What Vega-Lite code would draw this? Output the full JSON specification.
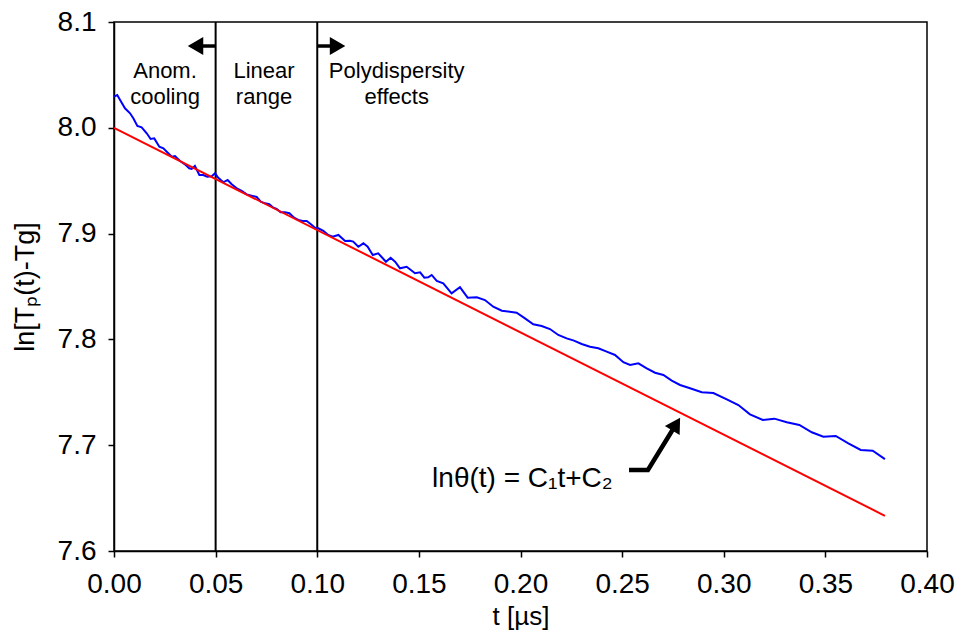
{
  "$schema": "https://vega.github.io/schema/vega-lite/v6.json",
  "autosize": {"type": "none"},
  "padding": {"left": 114, "top": 22, "right": 29, "bottom": 82},
  "width": 813,
  "height": 529,
  "background": "white",
  "config": {
    "font": "Liberation Sans",
    "view": {"stroke": "black", "strokeWidth": 1.5},
    "axis": {"grid": false, "domainColor": "black", "tickColor": "black", "labelColor": "black", "titleColor": "black", "labelFont": "Liberation Sans", "titleFont": "Liberation Sans", "titleFontWeight": "normal", "domainWidth": 1.5, "tickWidth": 1.5, "tickSize": 6, "labelFlush": false}
  },
  "datasets": {
    "measured": [
      {"t": 0.0, "v": 8.0294}, {"t": 0.0016, "v": 8.031}, {"t": 0.003, "v": 8.0263}, {"t": 0.0054, "v": 8.0184},
      {"t": 0.0079, "v": 8.0137}, {"t": 0.0095, "v": 8.009}, {"t": 0.0115, "v": 8.0017}, {"t": 0.0136, "v": 8.0005},
      {"t": 0.0161, "v": 7.9948}, {"t": 0.018, "v": 7.9894}, {"t": 0.0198, "v": 7.99}, {"t": 0.0223, "v": 7.9821},
      {"t": 0.0243, "v": 7.9806}, {"t": 0.0267, "v": 7.9759}, {"t": 0.0284, "v": 7.9727}, {"t": 0.03, "v": 7.9733},
      {"t": 0.0325, "v": 7.9686}, {"t": 0.0349, "v": 7.9655}, {"t": 0.037, "v": 7.9617}, {"t": 0.0382, "v": 7.9611},
      {"t": 0.0398, "v": 7.9639}, {"t": 0.042, "v": 7.9554}, {"t": 0.0439, "v": 7.9554}, {"t": 0.0459, "v": 7.9538},
      {"t": 0.0481, "v": 7.9542}, {"t": 0.0497, "v": 7.957}, {"t": 0.0513, "v": 7.9528}, {"t": 0.0538, "v": 7.9485},
      {"t": 0.0559, "v": 7.9507}, {"t": 0.0579, "v": 7.9466}, {"t": 0.0604, "v": 7.9428}, {"t": 0.0628, "v": 7.9403},
      {"t": 0.0653, "v": 7.9371}, {"t": 0.0677, "v": 7.9358}, {"t": 0.0702, "v": 7.9346}, {"t": 0.0722, "v": 7.9302},
      {"t": 0.0743, "v": 7.9286}, {"t": 0.0764, "v": 7.9277}, {"t": 0.0784, "v": 7.9245}, {"t": 0.08, "v": 7.9233},
      {"t": 0.082, "v": 7.9201}, {"t": 0.0841, "v": 7.9201}, {"t": 0.0863, "v": 7.9192}, {"t": 0.0886, "v": 7.915},
      {"t": 0.0907, "v": 7.9129}, {"t": 0.0928, "v": 7.9119}, {"t": 0.0948, "v": 7.9119}, {"t": 0.0969, "v": 7.9088},
      {"t": 0.0989, "v": 7.9056}, {"t": 0.1005, "v": 7.905}, {"t": 0.103, "v": 7.9027}, {"t": 0.1054, "v": 7.8987},
      {"t": 0.1076, "v": 7.8971}, {"t": 0.1104, "v": 7.8987}, {"t": 0.1137, "v": 7.893}, {"t": 0.1161, "v": 7.8933},
      {"t": 0.1177, "v": 7.8924}, {"t": 0.1202, "v": 7.8876}, {"t": 0.1227, "v": 7.8908}, {"t": 0.1248, "v": 7.8876},
      {"t": 0.1273, "v": 7.8798}, {"t": 0.13, "v": 7.8814}, {"t": 0.1338, "v": 7.8734}, {"t": 0.1361, "v": 7.8772},
      {"t": 0.1383, "v": 7.8734}, {"t": 0.1407, "v": 7.8672}, {"t": 0.144, "v": 7.8687}, {"t": 0.1481, "v": 7.8625},
      {"t": 0.1506, "v": 7.8634}, {"t": 0.1527, "v": 7.8583}, {"t": 0.1546, "v": 7.8587}, {"t": 0.1563, "v": 7.8609},
      {"t": 0.1588, "v": 7.8552}, {"t": 0.162, "v": 7.853}, {"t": 0.1661, "v": 7.8436}, {"t": 0.1702, "v": 7.8493},
      {"t": 0.174, "v": 7.8394}, {"t": 0.1785, "v": 7.8398}, {"t": 0.1825, "v": 7.8372}, {"t": 0.1866, "v": 7.8309},
      {"t": 0.1908, "v": 7.8271}, {"t": 0.1981, "v": 7.8252}, {"t": 0.2022, "v": 7.8199}, {"t": 0.2063, "v": 7.8143},
      {"t": 0.2104, "v": 7.8127}, {"t": 0.2145, "v": 7.8098}, {"t": 0.2186, "v": 7.8042}, {"t": 0.2227, "v": 7.801},
      {"t": 0.2263, "v": 7.7988}, {"t": 0.2301, "v": 7.7957}, {"t": 0.2342, "v": 7.7931}, {"t": 0.2383, "v": 7.7916},
      {"t": 0.2424, "v": 7.7884}, {"t": 0.2465, "v": 7.7853}, {"t": 0.2506, "v": 7.7784}, {"t": 0.2539, "v": 7.7758},
      {"t": 0.258, "v": 7.7774}, {"t": 0.2621, "v": 7.7727}, {"t": 0.2662, "v": 7.7685}, {"t": 0.2703, "v": 7.7664},
      {"t": 0.2744, "v": 7.761}, {"t": 0.2785, "v": 7.7569}, {"t": 0.2834, "v": 7.7538}, {"t": 0.2892, "v": 7.75},
      {"t": 0.2949, "v": 7.7493}, {"t": 0.3015, "v": 7.7434}, {"t": 0.3072, "v": 7.738}, {"t": 0.3129, "v": 7.7292},
      {"t": 0.3192, "v": 7.7238}, {"t": 0.3249, "v": 7.7251}, {"t": 0.331, "v": 7.7217}, {"t": 0.3372, "v": 7.7191},
      {"t": 0.3433, "v": 7.7122}, {"t": 0.349, "v": 7.708}, {"t": 0.3551, "v": 7.7087}, {"t": 0.3613, "v": 7.7018},
      {"t": 0.3674, "v": 7.6955}, {"t": 0.3733, "v": 7.6948}, {"t": 0.3793, "v": 7.6869}
    ],
    "fit": [{"t": 0.0, "v": 8.0}, {"t": 0.3793, "v": 7.6333}],
    "bounds": [{"t": 0.05}, {"t": 0.1}],
    "arrows": [
      {"seg": "left", "o": 1, "t": 0.05, "v": 8.0773},
      {"seg": "left", "o": 2, "t": 0.0398, "v": 8.0773},
      {"seg": "right", "o": 1, "t": 0.1, "v": 8.0773},
      {"seg": "right", "o": 2, "t": 0.1102, "v": 8.0773}
    ],
    "heads": [
      {"t": 0.0401, "v": 8.0773, "shape": "triangle-left", "angle": 0, "size": 320},
      {"t": 0.1100, "v": 8.0773, "shape": "triangle-right", "angle": 0, "size": 320},
      {"t": 0.2766, "v": 7.7200, "shape": "triangle-up", "angle": 31.6, "size": 300}
    ],
    "pointer": [
      {"o": 1, "t": 0.2534, "v": 7.6766},
      {"o": 2, "t": 0.2627, "v": 7.6766},
      {"o": 3, "t": 0.2766, "v": 7.7200}
    ],
    "regions": [
      {"t": 0.0251, "v": 8.054, "label": "Anom."},
      {"t": 0.0251, "v": 8.0294, "label": "cooling"},
      {"t": 0.0738, "v": 8.054, "label": "Linear"},
      {"t": 0.0738, "v": 8.0294, "label": "range"},
      {"t": 0.1391, "v": 8.054, "label": "Polydispersity"},
      {"t": 0.1391, "v": 8.0294, "label": "effects"}
    ],
    "formula": [{"t": 0.1565, "v": 7.668, "label": "lnθ(t) = C₁t+C₂"}]
  },
  "layer": [
    {
      "data": {"name": "bounds"},
      "mark": {"type": "rule", "color": "black", "strokeWidth": 2},
      "encoding": {
        "x": {"field": "t", "type": "quantitative", "scale": {"domain": [0, 0.4], "nice": false, "zero": false},
          "axis": {"title": "t [µs]", "values": [0, 0.05, 0.1, 0.15, 0.2, 0.25, 0.3, 0.35, 0.4], "format": ".2f", "labelFontSize": 28, "titleFontSize": 26, "labelPadding": 13, "titlePadding": 5}}
      }
    },
    {
      "data": {"name": "measured"},
      "mark": {"type": "line", "color": "#0000FF", "strokeWidth": 2},
      "encoding": {
        "x": {"field": "t", "type": "quantitative"},
        "y": {"field": "v", "type": "quantitative", "scale": {"domain": [7.6, 8.1], "nice": false, "zero": false},
          "axis": {"title": "ln[Tₚ(t)-Tg]", "values": [7.6, 7.7, 7.8, 7.9, 8.0, 8.1], "format": ".1f", "labelFontSize": 28, "titleFontSize": 27, "labelPadding": 12, "titlePadding": 18}}
      }
    },
    {
      "data": {"name": "fit"},
      "mark": {"type": "line", "color": "#FF0000", "strokeWidth": 2},
      "encoding": {
        "x": {"field": "t", "type": "quantitative"},
        "y": {"field": "v", "type": "quantitative"}
      }
    },
    {
      "data": {"name": "arrows"},
      "mark": {"type": "line", "color": "black", "strokeWidth": 3.5},
      "encoding": {
        "x": {"field": "t", "type": "quantitative"},
        "y": {"field": "v", "type": "quantitative"},
        "detail": {"field": "seg"},
        "order": {"field": "o"}
      }
    },
    {
      "data": {"name": "pointer"},
      "mark": {"type": "line", "color": "black", "strokeWidth": 4.5, "strokeJoin": "miter"},
      "encoding": {
        "x": {"field": "t", "type": "quantitative"},
        "y": {"field": "v", "type": "quantitative"},
        "order": {"field": "o"}
      }
    },
    {
      "data": {"name": "heads"},
      "mark": {"type": "point", "filled": true, "color": "black", "opacity": 1},
      "encoding": {
        "x": {"field": "t", "type": "quantitative"},
        "y": {"field": "v", "type": "quantitative"},
        "shape": {"field": "shape", "type": "nominal", "scale": null},
        "angle": {"field": "angle", "type": "quantitative", "scale": null},
        "size": {"field": "size", "type": "quantitative", "scale": null}
      }
    },
    {
      "data": {"name": "regions"},
      "mark": {"type": "text", "fontSize": 22, "align": "center", "baseline": "middle", "color": "black"},
      "encoding": {
        "x": {"field": "t", "type": "quantitative"},
        "y": {"field": "v", "type": "quantitative"},
        "text": {"field": "label"}
      }
    },
    {
      "data": {"name": "formula"},
      "mark": {"type": "text", "fontSize": 28, "align": "left", "baseline": "middle", "color": "black"},
      "encoding": {
        "x": {"field": "t", "type": "quantitative"},
        "y": {"field": "v", "type": "quantitative"},
        "text": {"field": "label"}
      }
    }
  ]
}
